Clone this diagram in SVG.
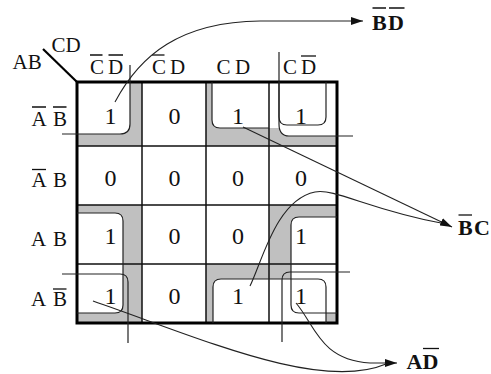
<svg xmlns="http://www.w3.org/2000/svg" width="491" height="374" viewBox="0 0 491 374">
  <defs>
    <marker id="arrow" markerWidth="12" markerHeight="8" refX="12" refY="4" orient="auto" markerUnits="userSpaceOnUse">
      <path d="M0,0 L12,4 L0,8 Z" fill="#111"/>
    </marker>
  </defs>
  <style>
    .lbl{font-family:"Liberation Serif","Times New Roman",serif;font-size:21px;fill:#111}
    .val{font-family:"Liberation Serif","Times New Roman",serif;font-size:24px;fill:#111;text-anchor:middle}
    .res{font-family:"Liberation Serif","Times New Roman",serif;font-size:22px;font-weight:bold;fill:#111}
    .bar{stroke:#111;stroke-width:1.3}
    .shade{fill:#c0c0c0}
    .hole{fill:#fff}
    .loop{fill:none;stroke:#222;stroke-width:1.2}
    .grid{stroke:#111;stroke-width:1.5;fill:none}
    .frame{stroke:#000;stroke-width:3;fill:none}
    .wire{fill:none;stroke:#222;stroke-width:1.1}
  </style>
  <rect width="491" height="374" fill="#fff"/>

  <!-- shaded cells with white rounded interiors -->
  <g id="shading">
    <rect class="shade" x="77" y="82" width="65" height="64"/>
    <rect class="shade" x="206" y="82" width="131" height="64"/>
    <rect class="shade" x="77" y="205" width="65" height="118"/>
    <rect class="shade" x="269" y="205" width="68" height="59"/>
    <rect class="shade" x="206" y="264" width="131" height="59"/>
    <path class="hole" d="M77,82 H130 V124 Q130,134 120,134 H77 Z"/>
    <path class="hole" d="M212,82 H337 V136 H289 Q279,136 279,128 H220 Q212,128 212,120 Z"/>
    <path class="hole" d="M77,213 H115 Q123,213 123,221 V305 Q123,313 115,313 H77 Z"/>
    <path class="hole" d="M337,217 H299 Q291,217 291,225 V305 Q291,313 299,313 H337 Z"/>
    <path class="hole" d="M213,323 V287 Q213,279 221,279 H318 Q326,279 326,287 V323 Z"/>
  </g>

  <!-- map grid -->
  <g id="grid">
    <path class="grid" d="M142,82 V323 M206,82 V323 M269,82 V323 M77,146 H337 M77,205 H337 M77,264 H337"/>
    <rect class="frame" x="77" y="82" width="260" height="241"/>
    <line x1="43" y1="49" x2="77" y2="82" stroke="#000" stroke-width="2.2"/>
  </g>

  <!-- group loops -->
  <g id="loops">
    <path class="loop" d="M62,134 H120 Q130,134 130,124 V65"/>
    <path class="loop" d="M212,82 V120 Q212,128 220,128 H269"/>
    <path class="loop" d="M279,52 V124 Q279,136 289,136 H353"/>
    <path class="loop" d="M279,82 V117 Q279,125 287,125 H318 Q326,125 326,117 V82"/>
    <path class="loop" d="M77,213 H115 Q123,213 123,221 V305 Q123,313 115,313 H77"/>
    <path class="loop" d="M62,274 H120 Q128,274 128,282 V343"/>
    <path class="loop" d="M337,217 H299 Q291,217 291,225 V305 Q291,313 299,313 H337"/>
    <path class="loop" d="M213,323 V287 Q213,279 221,279 H318 Q326,279 326,287 V323"/>
    <path class="loop" d="M282,342 V280 Q282,272 290,272 H350"/>
  </g>

  <!-- axis labels -->
  <g id="axis-corner">
    <text class="lbl" x="12.5" y="69">AB</text>
    <text class="lbl" x="51.5" y="51.5">CD</text>
  </g>
  <g id="col-0">
    <text class="lbl" y="74"><tspan x="90">C</tspan><tspan x="108">D</tspan></text>
    <path class="bar" d="M90,55 H102.5 M108.5,55 H123"/>
  </g>
  <g id="col-1">
    <text class="lbl" y="74"><tspan x="152">C</tspan><tspan x="170">D</tspan></text>
    <path class="bar" d="M152,55 H164.5"/>
  </g>
  <g id="col-2">
    <text class="lbl" y="74"><tspan x="216.5">C</tspan><tspan x="235">D</tspan></text>
  </g>
  <g id="col-3">
    <text class="lbl" y="74"><tspan x="283">C</tspan><tspan x="301">D</tspan></text>
    <path class="bar" d="M301,56 H316"/>
  </g>
  <g id="row-0">
    <text class="lbl" y="126"><tspan x="31.5">A</tspan><tspan x="53">B</tspan></text>
    <path class="bar" d="M32,107 H46 M53,107 H66.5"/>
  </g>
  <g id="row-1">
    <text class="lbl" y="186.5"><tspan x="31.5">A</tspan><tspan x="53">B</tspan></text>
    <path class="bar" d="M32,169.5 H46"/>
  </g>
  <g id="row-2">
    <text class="lbl" y="246"><tspan x="31">A</tspan><tspan x="53">B</tspan></text>
  </g>
  <g id="row-3">
    <text class="lbl" y="306"><tspan x="31">A</tspan><tspan x="53">B</tspan></text>
    <path class="bar" d="M53,289 H66.5"/>
  </g>

  <!-- cell values -->
  <g id="cells">
    <g id="m0"><text class="val" x="110.5" y="124">1</text></g>
    <g id="m1"><text class="val" x="174.5" y="124">0</text></g>
    <g id="m3"><text class="val" x="238" y="124">1</text></g>
    <g id="m2"><text class="val" x="301" y="124">1</text></g>
    <g id="m4"><text class="val" x="110.5" y="186">0</text></g>
    <g id="m5"><text class="val" x="174.5" y="186">0</text></g>
    <g id="m7"><text class="val" x="238" y="186">0</text></g>
    <g id="m6"><text class="val" x="301" y="186">0</text></g>
    <g id="m12"><text class="val" x="110.5" y="244">1</text></g>
    <g id="m13"><text class="val" x="174.5" y="244">0</text></g>
    <g id="m15"><text class="val" x="238" y="244">0</text></g>
    <g id="m14"><text class="val" x="301" y="244">1</text></g>
    <g id="m8"><text class="val" x="110.5" y="304">1</text></g>
    <g id="m9"><text class="val" x="174.5" y="304">0</text></g>
    <g id="m11"><text class="val" x="238" y="304">1</text></g>
    <g id="m10"><text class="val" x="301" y="304">1</text></g>
  </g>

  <!-- result terms -->
  <g id="term-bd">
    <text class="res" y="29.5"><tspan x="372">B</tspan><tspan x="388">D</tspan></text>
    <path class="bar" d="M372.5,8 H386 M389,8 H404.5"/>
  </g>
  <g id="term-bc">
    <text class="res" y="235"><tspan x="458">B</tspan><tspan x="474">C</tspan></text>
    <path class="bar" d="M458.5,215 H472"/>
  </g>
  <g id="term-ad">
    <text class="res" y="369"><tspan x="406.5">A</tspan><tspan x="422.5">D</tspan></text>
    <path class="bar" d="M423,348.5 H439"/>
  </g>

  <!-- connectors from groups to terms -->
  <g id="connectors">
    <path class="wire" d="M115,102 C140,55 180,22 260,21 L363,21" marker-end="url(#arrow)"/>
    <path class="wire" d="M243,127 L452,227" marker-end="url(#arrow)"/>
    <path class="wire" d="M250,286 C262,262 276,200 315,192 C335,188 370,210 441,223"/>
    <path class="wire" d="M296,303 C315,325 320,360 370,363 L397,363" marker-end="url(#arrow)"/>
    <path class="wire" d="M93,301 C200,338 320,392 386,364"/>
  </g>
</svg>
